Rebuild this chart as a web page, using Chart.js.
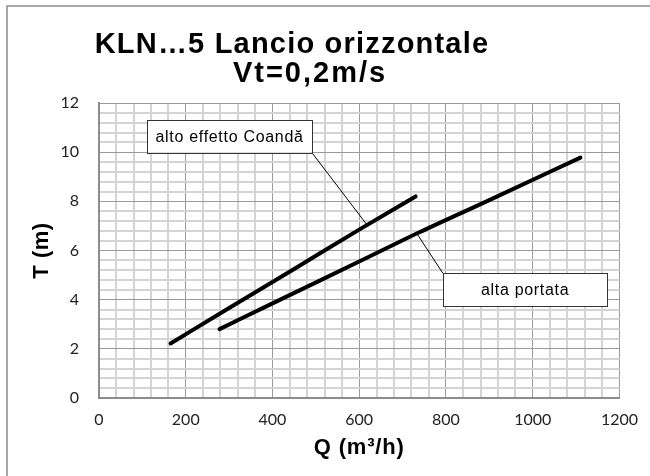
<!DOCTYPE html>
<html><head><meta charset="utf-8">
<script src="https://cdn.jsdelivr.net/npm/chart.js@4/dist/chart.umd.min.js"></script>
<style>html,body{margin:0;padding:0;background:#fff;}#wrap{width:650px;height:476px;position:relative;}</style>
</head><body><div id="wrap"><canvas id="c" width="650" height="476"></canvas></div>
<script>
// ---- data ----
const titleLines = ['KLN…5 Lancio orizzontale', 'Vt=0,2m/s'];
const xAxisTitle = 'Q (m³/h)';
const yAxisTitle = 'T (m)';
const seriesNames = ['alto effetto Coandă', 'alta portata'];
const coandaQ = [165, 300, 450, 600, 730];
const coandaT = [2.22, 3.66, 5.25, 6.85, 8.2];
const portataQ = [278, 400, 600, 740, 900, 1110];
const portataT = [2.8, 3.85, 5.55, 6.75, 8.05, 9.78];
const xTickLabels = [0, 200, 400, 600, 800, 1000, 1200];
const yTickLabels = [0, 2, 4, 6, 8, 10, 12];

// callouts (data units): box x1,x2,y1,y2 ; leader start corner ; anchor on the curve
const callouts = [
  { text: seriesNames[0], box: [111, 491, 11.31, 9.98], from: [491, 9.98], to: [618, 7.04] },
  { text: seriesNames[1], box: [793, 1172, 5.07, 3.71], from: [793, 5.07], to: [734, 6.66] }
];

const toXY = (xs, ys) => xs.map((x, i) => ({ x: x, y: ys[i] }));
const isMajor = (v, list) => list.some(t => Math.abs(t - v) < 1e-6);

const MAJOR = '#9a9a9a', MINOR = '#d4d4d4';

function spacedText(ctx, txt, x, y, spacing) {
  ctx.letterSpacing = spacing + 'px';
  ctx.fillText(txt, x, y);
  ctx.letterSpacing = '0px';
}

const decor = {
  id: 'decor',
  beforeDraw(chart) {
    const c = chart.ctx;
    c.save(); c.fillStyle = '#fff'; c.fillRect(0, 0, chart.width, chart.height); c.restore();
  },
  afterDraw(chart) {
    const c = chart.ctx, xs = chart.scales.x, ys = chart.scales.y, a = chart.chartArea;
    c.save();
    // outer frame (left and top)
    c.strokeStyle = '#8c8c8c'; c.lineWidth = 1.5;
    c.beginPath(); c.moveTo(7, 476); c.lineTo(7, 6); c.lineTo(650, 6); c.stroke();
    // title
    c.fillStyle = '#000';
    c.textAlign = 'center'; c.textBaseline = 'alphabetic';
    c.font = 'bold 29px "Liberation Sans", Arial, sans-serif';
    spacedText(c, titleLines[0], 292, 53, 1.2);
    spacedText(c, titleLines[1], 310, 82, 2);
    // axis titles
    c.font = 'bold 22px "Liberation Sans", Arial, sans-serif';
    c.textBaseline = 'middle';
    spacedText(c, xAxisTitle, (a.left + a.right) / 2, 448, 0.8);
    c.save();
    c.translate(42, (a.top + a.bottom) / 2);
    c.rotate(-Math.PI / 2);
    spacedText(c, yAxisTitle, 0, 0, 0.5);
    c.restore();
    // callouts
    c.font = '16px "Liberation Sans", Arial, sans-serif';
    callouts.forEach(o => {
      const x1 = xs.getPixelForValue(o.box[0]), x2 = xs.getPixelForValue(o.box[1]);
      const y1 = ys.getPixelForValue(o.box[2]), y2 = ys.getPixelForValue(o.box[3]);
      c.strokeStyle = '#000'; c.lineWidth = 1;
      c.beginPath();
      c.moveTo(xs.getPixelForValue(o.from[0]), ys.getPixelForValue(o.from[1]));
      c.lineTo(xs.getPixelForValue(o.to[0]), ys.getPixelForValue(o.to[1]));
      c.stroke();
      c.fillStyle = '#fff';
      c.fillRect(x1, y1, x2 - x1, y2 - y1);
      c.strokeStyle = '#333';
      c.strokeRect(Math.round(x1) + 0.5, Math.round(y1) + 0.5, Math.round(x2 - x1), Math.round(y2 - y1));
      c.fillStyle = '#000';
      c.textAlign = 'center'; c.textBaseline = 'middle';
      spacedText(c, o.text, (x1 + x2) / 2, (y1 + y2) / 2 + 1, 0.7);
    });
    c.restore();
  }
};

const lineStyle = {
  borderColor: '#000', backgroundColor: '#000', borderWidth: 4,
  pointRadius: 0, showLine: true, fill: false, tension: 0.3,
  cubicInterpolationMode: 'monotone', borderCapStyle: 'round', borderJoinStyle: 'round'
};

new Chart(document.getElementById('c'), {
  type: 'scatter',
  data: {
    datasets: [
      Object.assign({ label: seriesNames[0], data: toXY(coandaQ, coandaT) }, lineStyle),
      Object.assign({ label: seriesNames[1], data: toXY(portataQ, portataT) }, lineStyle)
    ]
  },
  options: {
    responsive: false, animation: false, devicePixelRatio: 1,
    layout: { padding: { left: 0, right: 30, top: 103, bottom: 0 } },
    plugins: { legend: { display: false }, title: { display: false }, tooltip: { enabled: false } },
    scales: {
      x: {
        type: 'linear', min: 0, max: 1200,
        afterFit(s) { s.height = 78; },
        ticks: {
          stepSize: 40, autoSkip: false, maxRotation: 0, padding: 12,
          color: '#222', font: { family: 'Lato', size: 16 },
          callback: v => isMajor(v, xTickLabels) ? String(Math.round(v)) : ''
        },
        grid: {
          drawTicks: false,
          color: c => (c.tick && isMajor(c.tick.value, xTickLabels)) ? MAJOR : MINOR,
          lineWidth: c => (c.tick && isMajor(c.tick.value, xTickLabels)) ? 1 : 2
        },
        border: { display: true, color: '#8c8c8c', width: 2 }
      },
      y: {
        type: 'linear', min: 0, max: 12,
        afterFit(s) { s.width = 99; },
        ticks: {
          stepSize: 0.4, autoSkip: false, padding: 20,
          color: '#222', font: { family: 'Lato', size: 16 },
          callback: v => isMajor(v, yTickLabels) ? String(Math.round(v)) : ''
        },
        grid: {
          drawTicks: false,
          color: c => (c.tick && isMajor(c.tick.value, yTickLabels)) ? MAJOR : MINOR,
          lineWidth: c => (c.tick && isMajor(c.tick.value, yTickLabels)) ? 1 : 2
        },
        border: { display: true, color: '#8c8c8c', width: 2 }
      }
    }
  },
  plugins: [decor]
});
</script>
</body></html>
